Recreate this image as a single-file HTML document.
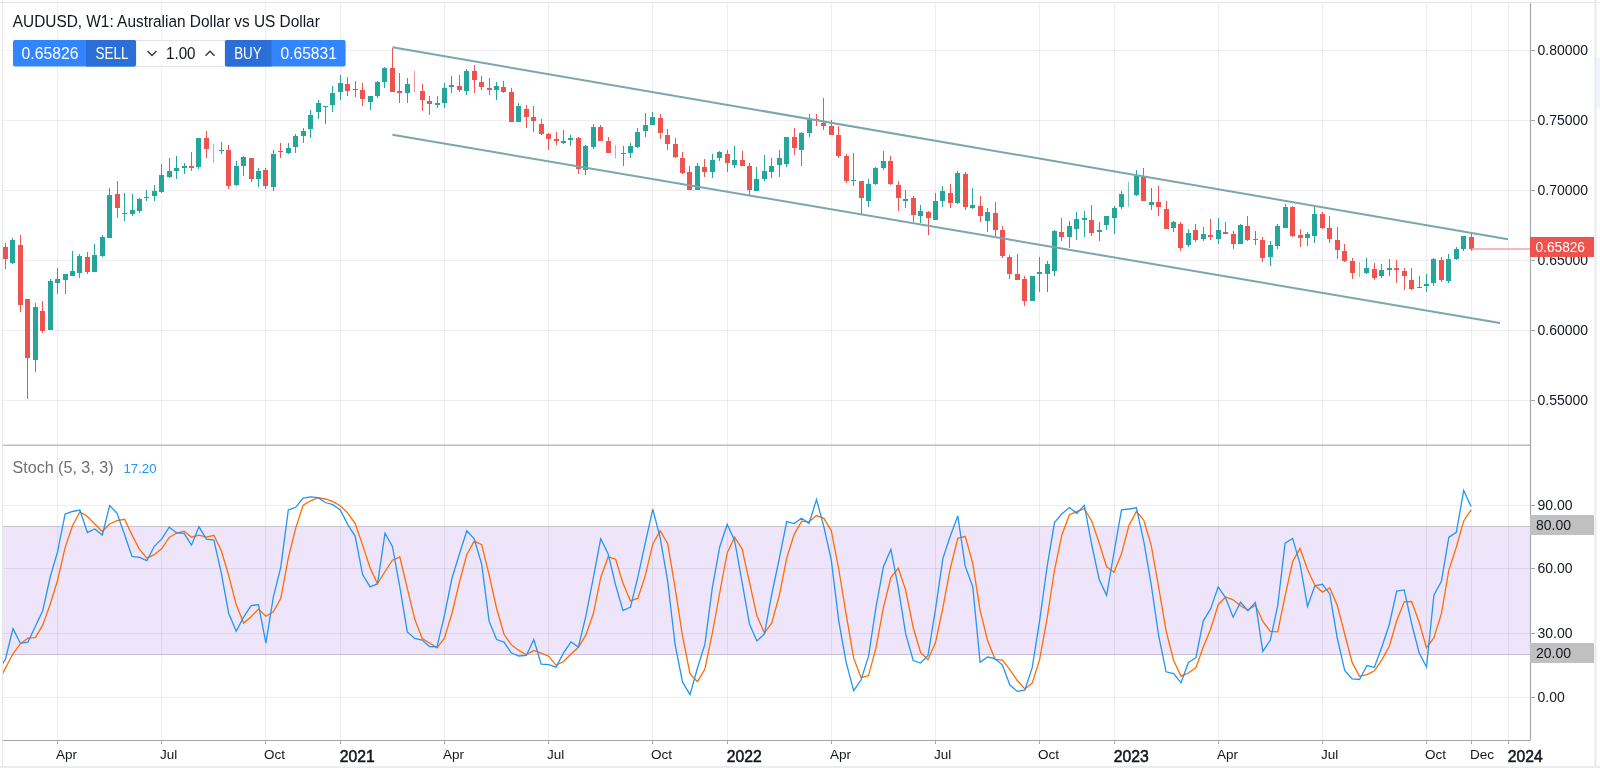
<!DOCTYPE html>
<html><head><meta charset="utf-8"><style>
html,body{margin:0;padding:0;background:#fff;width:1600px;height:768px;overflow:hidden;position:relative}
text{font-family:"Liberation Sans",sans-serif}
</style></head><body>
<svg width="1600" height="768" viewBox="0 0 1600 768" style="position:absolute;left:0;top:0;will-change:transform">
<defs><clipPath id="cm"><rect x="3" y="3" width="1527" height="441"/></clipPath><clipPath id="cs"><rect x="3" y="445" width="1527" height="295"/></clipPath></defs>
<rect x="0" y="0" width="1600" height="768" fill="#ffffff"/>
<line x1="0" y1="2.5" x2="1600" y2="2.5" stroke="#e6e6e6" stroke-width="1"/>
<line x1="2.5" y1="0" x2="2.5" y2="768" stroke="#e6e6e6" stroke-width="1"/>
<rect x="1594.5" y="0" width="2" height="768" fill="#e9e9e9"/>
<rect x="0" y="766" width="1600" height="2" fill="#ececec"/>
<rect x="1596" y="58" width="4" height="50" fill="#edf4fb"/>
<rect x="3" y="526.5" width="1527" height="128" fill="#eee5fa"/>
<line x1="57.5" y1="3" x2="57.5" y2="740" stroke="rgba(0,0,0,0.068)" stroke-width="1"/>
<line x1="161.5" y1="3" x2="161.5" y2="740" stroke="rgba(0,0,0,0.068)" stroke-width="1"/>
<line x1="265.5" y1="3" x2="265.5" y2="740" stroke="rgba(0,0,0,0.068)" stroke-width="1"/>
<line x1="340.5" y1="3" x2="340.5" y2="740" stroke="rgba(0,0,0,0.068)" stroke-width="1"/>
<line x1="444.5" y1="3" x2="444.5" y2="740" stroke="rgba(0,0,0,0.068)" stroke-width="1"/>
<line x1="548.5" y1="3" x2="548.5" y2="740" stroke="rgba(0,0,0,0.068)" stroke-width="1"/>
<line x1="652.5" y1="3" x2="652.5" y2="740" stroke="rgba(0,0,0,0.068)" stroke-width="1"/>
<line x1="727.5" y1="3" x2="727.5" y2="740" stroke="rgba(0,0,0,0.068)" stroke-width="1"/>
<line x1="831.5" y1="3" x2="831.5" y2="740" stroke="rgba(0,0,0,0.068)" stroke-width="1"/>
<line x1="935.5" y1="3" x2="935.5" y2="740" stroke="rgba(0,0,0,0.068)" stroke-width="1"/>
<line x1="1039.5" y1="3" x2="1039.5" y2="740" stroke="rgba(0,0,0,0.068)" stroke-width="1"/>
<line x1="1114.5" y1="3" x2="1114.5" y2="740" stroke="rgba(0,0,0,0.068)" stroke-width="1"/>
<line x1="1218.5" y1="3" x2="1218.5" y2="740" stroke="rgba(0,0,0,0.068)" stroke-width="1"/>
<line x1="1322.5" y1="3" x2="1322.5" y2="740" stroke="rgba(0,0,0,0.068)" stroke-width="1"/>
<line x1="1426.5" y1="3" x2="1426.5" y2="740" stroke="rgba(0,0,0,0.068)" stroke-width="1"/>
<line x1="1471.5" y1="3" x2="1471.5" y2="740" stroke="rgba(0,0,0,0.068)" stroke-width="1"/>
<line x1="1508.5" y1="3" x2="1508.5" y2="740" stroke="rgba(0,0,0,0.068)" stroke-width="1"/>
<line x1="3" y1="50.5" x2="1530" y2="50.5" stroke="rgba(0,0,0,0.068)" stroke-width="1"/>
<line x1="3" y1="120.5" x2="1530" y2="120.5" stroke="rgba(0,0,0,0.068)" stroke-width="1"/>
<line x1="3" y1="190.5" x2="1530" y2="190.5" stroke="rgba(0,0,0,0.068)" stroke-width="1"/>
<line x1="3" y1="260.5" x2="1530" y2="260.5" stroke="rgba(0,0,0,0.068)" stroke-width="1"/>
<line x1="3" y1="330.5" x2="1530" y2="330.5" stroke="rgba(0,0,0,0.068)" stroke-width="1"/>
<line x1="3" y1="400.5" x2="1530" y2="400.5" stroke="rgba(0,0,0,0.068)" stroke-width="1"/>
<line x1="3" y1="505.5" x2="1530" y2="505.5" stroke="rgba(0,0,0,0.068)" stroke-width="1"/>
<line x1="3" y1="568.5" x2="1530" y2="568.5" stroke="rgba(0,0,0,0.068)" stroke-width="1"/>
<line x1="3" y1="633.5" x2="1530" y2="633.5" stroke="rgba(0,0,0,0.068)" stroke-width="1"/>
<line x1="3" y1="697.5" x2="1530" y2="697.5" stroke="rgba(0,0,0,0.068)" stroke-width="1"/>
<line x1="3" y1="526.5" x2="1530" y2="526.5" stroke="#c9c2d3" stroke-width="1.2"/>
<line x1="3" y1="654.5" x2="1530" y2="654.5" stroke="#c9c2d3" stroke-width="1.2"/>
<line x1="3" y1="445.3" x2="1530" y2="445.3" stroke="#bdbdbd" stroke-width="1.5"/>
<line x1="1530.5" y1="3" x2="1530.5" y2="740" stroke="#a8a8a8" stroke-width="1.2"/>
<line x1="3" y1="740.5" x2="1530.5" y2="740.5" stroke="#a8a8a8" stroke-width="1.2"/>
<line x1="1531" y1="50.5" x2="1535" y2="50.5" stroke="#a8a8a8" stroke-width="1"/>
<line x1="1531" y1="120.5" x2="1535" y2="120.5" stroke="#a8a8a8" stroke-width="1"/>
<line x1="1531" y1="190.5" x2="1535" y2="190.5" stroke="#a8a8a8" stroke-width="1"/>
<line x1="1531" y1="260.5" x2="1535" y2="260.5" stroke="#a8a8a8" stroke-width="1"/>
<line x1="1531" y1="330.5" x2="1535" y2="330.5" stroke="#a8a8a8" stroke-width="1"/>
<line x1="1531" y1="400.5" x2="1535" y2="400.5" stroke="#a8a8a8" stroke-width="1"/>
<line x1="1531" y1="505.5" x2="1535" y2="505.5" stroke="#a8a8a8" stroke-width="1"/>
<line x1="1531" y1="568.5" x2="1535" y2="568.5" stroke="#a8a8a8" stroke-width="1"/>
<line x1="1531" y1="633.5" x2="1535" y2="633.5" stroke="#a8a8a8" stroke-width="1"/>
<line x1="1531" y1="697.5" x2="1535" y2="697.5" stroke="#a8a8a8" stroke-width="1"/>
<line x1="57.5" y1="741" x2="57.5" y2="744" stroke="#a8a8a8" stroke-width="1"/>
<line x1="161.5" y1="741" x2="161.5" y2="744" stroke="#a8a8a8" stroke-width="1"/>
<line x1="265.5" y1="741" x2="265.5" y2="744" stroke="#a8a8a8" stroke-width="1"/>
<line x1="340.5" y1="741" x2="340.5" y2="744" stroke="#a8a8a8" stroke-width="1"/>
<line x1="444.5" y1="741" x2="444.5" y2="744" stroke="#a8a8a8" stroke-width="1"/>
<line x1="548.5" y1="741" x2="548.5" y2="744" stroke="#a8a8a8" stroke-width="1"/>
<line x1="652.5" y1="741" x2="652.5" y2="744" stroke="#a8a8a8" stroke-width="1"/>
<line x1="727.5" y1="741" x2="727.5" y2="744" stroke="#a8a8a8" stroke-width="1"/>
<line x1="831.5" y1="741" x2="831.5" y2="744" stroke="#a8a8a8" stroke-width="1"/>
<line x1="935.5" y1="741" x2="935.5" y2="744" stroke="#a8a8a8" stroke-width="1"/>
<line x1="1039.5" y1="741" x2="1039.5" y2="744" stroke="#a8a8a8" stroke-width="1"/>
<line x1="1114.5" y1="741" x2="1114.5" y2="744" stroke="#a8a8a8" stroke-width="1"/>
<line x1="1218.5" y1="741" x2="1218.5" y2="744" stroke="#a8a8a8" stroke-width="1"/>
<line x1="1322.5" y1="741" x2="1322.5" y2="744" stroke="#a8a8a8" stroke-width="1"/>
<line x1="1426.5" y1="741" x2="1426.5" y2="744" stroke="#a8a8a8" stroke-width="1"/>
<line x1="1471.5" y1="741" x2="1471.5" y2="744" stroke="#a8a8a8" stroke-width="1"/>
<line x1="1508.5" y1="741" x2="1508.5" y2="744" stroke="#a8a8a8" stroke-width="1"/>
<g clip-path="url(#cm)">
<rect x="5.0" y="243" width="1" height="26" fill="#ef5350"/>
<rect x="3.0" y="247" width="5" height="12" fill="#ef5350"/>
<rect x="12.0" y="238" width="1" height="26" fill="#26a69a"/>
<rect x="10.0" y="240" width="5" height="23" fill="#26a69a"/>
<rect x="20.0" y="235" width="1" height="77" fill="#ef5350"/>
<rect x="18.0" y="245" width="5" height="60" fill="#ef5350"/>
<rect x="27.0" y="299" width="1" height="100" fill="#ef5350"/>
<rect x="25.0" y="299" width="5" height="59" fill="#ef5350"/>
<rect x="35.0" y="303" width="1" height="69" fill="#26a69a"/>
<rect x="33.0" y="307" width="5" height="53" fill="#26a69a"/>
<rect x="42.0" y="301" width="1" height="32" fill="#ef5350"/>
<rect x="40.0" y="311" width="5" height="20" fill="#ef5350"/>
<rect x="50.0" y="279" width="1" height="51" fill="#26a69a"/>
<rect x="48.0" y="281" width="5" height="49" fill="#26a69a"/>
<rect x="57.0" y="268" width="1" height="26" fill="#26a69a"/>
<rect x="55.0" y="279" width="5" height="4" fill="#26a69a"/>
<rect x="65.0" y="274" width="1" height="20" fill="#26a69a"/>
<rect x="63.0" y="274" width="5" height="6" fill="#26a69a"/>
<rect x="72.0" y="251" width="1" height="25" fill="#26a69a"/>
<rect x="70.0" y="271" width="5" height="5" fill="#26a69a"/>
<rect x="79.0" y="254" width="1" height="24" fill="#26a69a"/>
<rect x="77.0" y="256" width="5" height="17" fill="#26a69a"/>
<rect x="87.0" y="252" width="1" height="22" fill="#ef5350"/>
<rect x="85.0" y="257" width="5" height="15" fill="#ef5350"/>
<rect x="94.0" y="244" width="1" height="28" fill="#26a69a"/>
<rect x="92.0" y="255" width="5" height="17" fill="#26a69a"/>
<rect x="102.0" y="235" width="1" height="22" fill="#26a69a"/>
<rect x="100.0" y="237" width="5" height="19" fill="#26a69a"/>
<rect x="109.0" y="188" width="1" height="50" fill="#26a69a"/>
<rect x="107.0" y="195" width="5" height="43" fill="#26a69a"/>
<rect x="117.0" y="181" width="1" height="37" fill="#ef5350"/>
<rect x="115.0" y="194" width="5" height="14" fill="#ef5350"/>
<rect x="124.0" y="193" width="1" height="28" fill="#26a69a"/>
<rect x="122.0" y="213" width="5" height="1" fill="#26a69a"/>
<rect x="132.0" y="194" width="1" height="22" fill="#26a69a"/>
<rect x="130.0" y="210" width="5" height="4" fill="#26a69a"/>
<rect x="139.0" y="198" width="1" height="15" fill="#26a69a"/>
<rect x="137.0" y="199" width="5" height="12" fill="#26a69a"/>
<rect x="146.0" y="190" width="1" height="11" fill="#26a69a"/>
<rect x="144.0" y="197" width="5" height="1" fill="#26a69a"/>
<rect x="154.0" y="185" width="1" height="16" fill="#26a69a"/>
<rect x="152.0" y="191" width="5" height="5" fill="#26a69a"/>
<rect x="161.0" y="164" width="1" height="29" fill="#26a69a"/>
<rect x="159.0" y="175" width="5" height="17" fill="#26a69a"/>
<rect x="169.0" y="158" width="1" height="20" fill="#26a69a"/>
<rect x="167.0" y="171" width="5" height="6" fill="#26a69a"/>
<rect x="176.0" y="156" width="1" height="23" fill="#26a69a"/>
<rect x="174.0" y="168" width="5" height="3" fill="#26a69a"/>
<rect x="184.0" y="163" width="1" height="11" fill="#26a69a"/>
<rect x="182.0" y="166" width="5" height="2" fill="#26a69a"/>
<rect x="191.0" y="152" width="1" height="19" fill="#ef5350"/>
<rect x="189.0" y="166" width="5" height="2" fill="#ef5350"/>
<rect x="198.0" y="138" width="1" height="31" fill="#26a69a"/>
<rect x="196.0" y="138" width="5" height="29" fill="#26a69a"/>
<rect x="206.0" y="131" width="1" height="27" fill="#ef5350"/>
<rect x="204.0" y="138" width="5" height="11" fill="#ef5350"/>
<rect x="213.0" y="144" width="1" height="19" fill="#ef5350" opacity="0.6"/>
<rect x="221.0" y="142" width="1" height="12" fill="#26a69a"/>
<rect x="219.0" y="150" width="5" height="1" fill="#26a69a"/>
<rect x="228.0" y="145" width="1" height="44" fill="#ef5350"/>
<rect x="226.0" y="150" width="5" height="36" fill="#ef5350"/>
<rect x="236.0" y="161" width="1" height="25" fill="#26a69a"/>
<rect x="234.0" y="166" width="5" height="19" fill="#26a69a"/>
<rect x="243.0" y="156" width="1" height="20" fill="#26a69a"/>
<rect x="241.0" y="157" width="5" height="9" fill="#26a69a"/>
<rect x="251.0" y="158" width="1" height="24" fill="#ef5350"/>
<rect x="249.0" y="158" width="5" height="21" fill="#ef5350"/>
<rect x="258.0" y="168" width="1" height="19" fill="#26a69a"/>
<rect x="256.0" y="171" width="5" height="8" fill="#26a69a"/>
<rect x="265.0" y="168" width="1" height="21" fill="#ef5350"/>
<rect x="263.0" y="170" width="5" height="16" fill="#ef5350"/>
<rect x="273.0" y="150" width="1" height="41" fill="#26a69a"/>
<rect x="271.0" y="154" width="5" height="33" fill="#26a69a"/>
<rect x="280.0" y="143" width="1" height="15" fill="#ef5350"/>
<rect x="278.0" y="151" width="5" height="1" fill="#ef5350"/>
<rect x="288.0" y="143" width="1" height="11" fill="#26a69a"/>
<rect x="286.0" y="148" width="5" height="5" fill="#26a69a"/>
<rect x="295.0" y="134" width="1" height="19" fill="#26a69a"/>
<rect x="293.0" y="136" width="5" height="11" fill="#26a69a"/>
<rect x="303.0" y="128" width="1" height="15" fill="#26a69a"/>
<rect x="301.0" y="131" width="5" height="5" fill="#26a69a"/>
<rect x="310.0" y="110" width="1" height="28" fill="#26a69a"/>
<rect x="308.0" y="115" width="5" height="14" fill="#26a69a"/>
<rect x="318.0" y="100" width="1" height="19" fill="#26a69a"/>
<rect x="316.0" y="103" width="5" height="9" fill="#26a69a"/>
<rect x="325.0" y="106" width="1" height="18" fill="#26a69a"/>
<rect x="323.0" y="106" width="5" height="1" fill="#26a69a"/>
<rect x="332.0" y="86" width="1" height="26" fill="#26a69a"/>
<rect x="330.0" y="93" width="5" height="12" fill="#26a69a"/>
<rect x="340.0" y="75" width="1" height="25" fill="#26a69a"/>
<rect x="338.0" y="83" width="5" height="9" fill="#26a69a"/>
<rect x="347.0" y="77" width="1" height="19" fill="#ef5350"/>
<rect x="345.0" y="84" width="5" height="7" fill="#ef5350"/>
<rect x="355.0" y="81" width="1" height="16" fill="#26a69a"/>
<rect x="353.0" y="89" width="5" height="1" fill="#26a69a"/>
<rect x="362.0" y="83" width="1" height="23" fill="#ef5350"/>
<rect x="360.0" y="90" width="5" height="9" fill="#ef5350"/>
<rect x="370.0" y="96" width="1" height="14" fill="#26a69a"/>
<rect x="368.0" y="96" width="5" height="6" fill="#26a69a"/>
<rect x="377.0" y="81" width="1" height="17" fill="#26a69a"/>
<rect x="375.0" y="82" width="5" height="14" fill="#26a69a"/>
<rect x="384.0" y="67" width="1" height="21" fill="#26a69a"/>
<rect x="382.0" y="68" width="5" height="14" fill="#26a69a"/>
<rect x="392.0" y="48" width="1" height="44" fill="#ef5350"/>
<rect x="390.0" y="68" width="5" height="24" fill="#ef5350"/>
<rect x="399.0" y="73" width="1" height="30" fill="#ef5350"/>
<rect x="397.0" y="91" width="5" height="2" fill="#ef5350"/>
<rect x="407.0" y="78" width="1" height="25" fill="#26a69a"/>
<rect x="405.0" y="84" width="5" height="9" fill="#26a69a"/>
<rect x="414.0" y="71" width="1" height="21" fill="#ef5350" opacity="0.6"/>
<rect x="422.0" y="84" width="1" height="27" fill="#ef5350"/>
<rect x="420.0" y="91" width="5" height="9" fill="#ef5350"/>
<rect x="429.0" y="96" width="1" height="19" fill="#ef5350"/>
<rect x="427.0" y="101" width="5" height="3" fill="#ef5350"/>
<rect x="437.0" y="96" width="1" height="12" fill="#26a69a"/>
<rect x="435.0" y="103" width="5" height="2" fill="#26a69a"/>
<rect x="444.0" y="83" width="1" height="25" fill="#26a69a"/>
<rect x="442.0" y="88" width="5" height="15" fill="#26a69a"/>
<rect x="451.0" y="76" width="1" height="17" fill="#26a69a"/>
<rect x="449.0" y="85" width="5" height="2" fill="#26a69a"/>
<rect x="459.0" y="75" width="1" height="17" fill="#ef5350"/>
<rect x="457.0" y="86" width="5" height="4" fill="#ef5350"/>
<rect x="466.0" y="69" width="1" height="26" fill="#26a69a"/>
<rect x="464.0" y="71" width="5" height="20" fill="#26a69a"/>
<rect x="474.0" y="65" width="1" height="28" fill="#ef5350"/>
<rect x="472.0" y="71" width="5" height="9" fill="#ef5350"/>
<rect x="481.0" y="76" width="1" height="14" fill="#ef5350"/>
<rect x="479.0" y="82" width="5" height="5" fill="#ef5350"/>
<rect x="489.0" y="78" width="1" height="17" fill="#ef5350"/>
<rect x="487.0" y="88" width="5" height="2" fill="#ef5350"/>
<rect x="496.0" y="82" width="1" height="18" fill="#26a69a"/>
<rect x="494.0" y="86" width="5" height="4" fill="#26a69a"/>
<rect x="503.0" y="81" width="1" height="12" fill="#ef5350"/>
<rect x="501.0" y="87" width="5" height="5" fill="#ef5350"/>
<rect x="511.0" y="88" width="1" height="34" fill="#ef5350"/>
<rect x="509.0" y="92" width="5" height="30" fill="#ef5350"/>
<rect x="518.0" y="103" width="1" height="19" fill="#26a69a"/>
<rect x="516.0" y="106" width="5" height="16" fill="#26a69a"/>
<rect x="526.0" y="105" width="1" height="23" fill="#ef5350"/>
<rect x="524.0" y="109" width="5" height="8" fill="#ef5350"/>
<rect x="533.0" y="106" width="1" height="26" fill="#ef5350"/>
<rect x="531.0" y="117" width="5" height="4" fill="#ef5350"/>
<rect x="541.0" y="119" width="1" height="16" fill="#ef5350"/>
<rect x="539.0" y="124" width="5" height="10" fill="#ef5350"/>
<rect x="548.0" y="133" width="1" height="17" fill="#ef5350"/>
<rect x="546.0" y="134" width="5" height="5" fill="#ef5350"/>
<rect x="556.0" y="132" width="1" height="13" fill="#ef5350"/>
<rect x="554.0" y="139" width="5" height="2" fill="#ef5350"/>
<rect x="563.0" y="130" width="1" height="14" fill="#26a69a"/>
<rect x="561.0" y="141" width="5" height="2" fill="#26a69a"/>
<rect x="570.0" y="135" width="1" height="11" fill="#26a69a"/>
<rect x="568.0" y="138" width="5" height="2" fill="#26a69a"/>
<rect x="578.0" y="137" width="1" height="37" fill="#ef5350"/>
<rect x="576.0" y="138" width="5" height="31" fill="#ef5350"/>
<rect x="585.0" y="145" width="1" height="30" fill="#26a69a"/>
<rect x="583.0" y="146" width="5" height="24" fill="#26a69a"/>
<rect x="593.0" y="124" width="1" height="25" fill="#26a69a"/>
<rect x="591.0" y="127" width="5" height="20" fill="#26a69a"/>
<rect x="600.0" y="125" width="1" height="16" fill="#ef5350"/>
<rect x="598.0" y="127" width="5" height="14" fill="#ef5350"/>
<rect x="608.0" y="137" width="1" height="16" fill="#ef5350"/>
<rect x="606.0" y="141" width="5" height="12" fill="#ef5350"/>
<rect x="615.0" y="145" width="1" height="13" fill="#ef5350" opacity="0.6"/>
<rect x="623.0" y="146" width="1" height="20" fill="#26a69a"/>
<rect x="621.0" y="153" width="5" height="1" fill="#26a69a"/>
<rect x="630.0" y="143" width="1" height="15" fill="#26a69a"/>
<rect x="628.0" y="146" width="5" height="7" fill="#26a69a"/>
<rect x="637.0" y="128" width="1" height="20" fill="#26a69a"/>
<rect x="635.0" y="132" width="5" height="15" fill="#26a69a"/>
<rect x="645.0" y="113" width="1" height="24" fill="#26a69a"/>
<rect x="643.0" y="125" width="5" height="6" fill="#26a69a"/>
<rect x="652.0" y="112" width="1" height="13" fill="#26a69a"/>
<rect x="650.0" y="117" width="5" height="8" fill="#26a69a"/>
<rect x="660.0" y="114" width="1" height="25" fill="#ef5350"/>
<rect x="658.0" y="118" width="5" height="15" fill="#ef5350"/>
<rect x="667.0" y="129" width="1" height="21" fill="#ef5350"/>
<rect x="665.0" y="135" width="5" height="9" fill="#ef5350"/>
<rect x="675.0" y="138" width="1" height="20" fill="#ef5350"/>
<rect x="673.0" y="144" width="5" height="13" fill="#ef5350"/>
<rect x="682.0" y="152" width="1" height="22" fill="#ef5350"/>
<rect x="680.0" y="158" width="5" height="15" fill="#ef5350"/>
<rect x="689.0" y="166" width="1" height="24" fill="#ef5350"/>
<rect x="687.0" y="172" width="5" height="18" fill="#ef5350"/>
<rect x="697.0" y="163" width="1" height="27" fill="#26a69a"/>
<rect x="695.0" y="166" width="5" height="24" fill="#26a69a"/>
<rect x="704.0" y="159" width="1" height="18" fill="#ef5350"/>
<rect x="702.0" y="167" width="5" height="5" fill="#ef5350"/>
<rect x="712.0" y="154" width="1" height="24" fill="#26a69a"/>
<rect x="710.0" y="160" width="5" height="12" fill="#26a69a"/>
<rect x="719.0" y="151" width="1" height="10" fill="#26a69a"/>
<rect x="717.0" y="152" width="5" height="6" fill="#26a69a"/>
<rect x="727.0" y="150" width="1" height="22" fill="#ef5350"/>
<rect x="725.0" y="154" width="5" height="9" fill="#ef5350"/>
<rect x="734.0" y="146" width="1" height="22" fill="#26a69a"/>
<rect x="732.0" y="160" width="5" height="5" fill="#26a69a"/>
<rect x="742.0" y="151" width="1" height="15" fill="#ef5350"/>
<rect x="740.0" y="160" width="5" height="6" fill="#ef5350"/>
<rect x="749.0" y="163" width="1" height="32" fill="#ef5350"/>
<rect x="747.0" y="166" width="5" height="24" fill="#ef5350"/>
<rect x="756.0" y="167" width="1" height="24" fill="#26a69a"/>
<rect x="754.0" y="179" width="5" height="12" fill="#26a69a"/>
<rect x="764.0" y="155" width="1" height="26" fill="#26a69a"/>
<rect x="762.0" y="171" width="5" height="8" fill="#26a69a"/>
<rect x="771.0" y="158" width="1" height="20" fill="#26a69a"/>
<rect x="769.0" y="166" width="5" height="6" fill="#26a69a"/>
<rect x="779.0" y="150" width="1" height="27" fill="#26a69a"/>
<rect x="777.0" y="158" width="5" height="7" fill="#26a69a"/>
<rect x="786.0" y="137" width="1" height="30" fill="#26a69a"/>
<rect x="784.0" y="137" width="5" height="27" fill="#26a69a"/>
<rect x="794.0" y="128" width="1" height="27" fill="#ef5350"/>
<rect x="792.0" y="137" width="5" height="11" fill="#ef5350"/>
<rect x="801.0" y="132" width="1" height="34" fill="#26a69a"/>
<rect x="799.0" y="133" width="5" height="17" fill="#26a69a"/>
<rect x="809.0" y="114" width="1" height="23" fill="#26a69a"/>
<rect x="807.0" y="119" width="5" height="14" fill="#26a69a"/>
<rect x="816.0" y="114" width="1" height="12" fill="#ef5350"/>
<rect x="814.0" y="119" width="5" height="1" fill="#ef5350"/>
<rect x="823.0" y="98" width="1" height="32" fill="#ef5350"/>
<rect x="821.0" y="123" width="5" height="3" fill="#ef5350"/>
<rect x="831.0" y="120" width="1" height="15" fill="#ef5350"/>
<rect x="829.0" y="126" width="5" height="9" fill="#ef5350"/>
<rect x="838.0" y="126" width="1" height="32" fill="#ef5350"/>
<rect x="836.0" y="135" width="5" height="21" fill="#ef5350"/>
<rect x="846.0" y="154" width="1" height="29" fill="#ef5350"/>
<rect x="844.0" y="156" width="5" height="25" fill="#ef5350"/>
<rect x="853.0" y="153" width="1" height="33" fill="#26a69a"/>
<rect x="851.0" y="180" width="5" height="1" fill="#26a69a"/>
<rect x="861.0" y="181" width="1" height="33" fill="#ef5350"/>
<rect x="859.0" y="181" width="5" height="17" fill="#ef5350"/>
<rect x="868.0" y="179" width="1" height="28" fill="#26a69a"/>
<rect x="866.0" y="184" width="5" height="17" fill="#26a69a"/>
<rect x="875.0" y="167" width="1" height="18" fill="#26a69a"/>
<rect x="873.0" y="168" width="5" height="16" fill="#26a69a"/>
<rect x="883.0" y="151" width="1" height="19" fill="#26a69a"/>
<rect x="881.0" y="161" width="5" height="7" fill="#26a69a"/>
<rect x="890.0" y="156" width="1" height="29" fill="#ef5350"/>
<rect x="888.0" y="161" width="5" height="23" fill="#ef5350"/>
<rect x="898.0" y="181" width="1" height="30" fill="#ef5350"/>
<rect x="896.0" y="185" width="5" height="13" fill="#ef5350"/>
<rect x="905.0" y="190" width="1" height="18" fill="#26a69a"/>
<rect x="903.0" y="199" width="5" height="2" fill="#26a69a"/>
<rect x="913.0" y="196" width="1" height="26" fill="#ef5350"/>
<rect x="911.0" y="198" width="5" height="17" fill="#ef5350"/>
<rect x="920.0" y="205" width="1" height="18" fill="#26a69a"/>
<rect x="918.0" y="211" width="5" height="5" fill="#26a69a"/>
<rect x="928.0" y="211" width="1" height="24" fill="#ef5350"/>
<rect x="926.0" y="212" width="5" height="6" fill="#ef5350"/>
<rect x="935.0" y="193" width="1" height="27" fill="#26a69a"/>
<rect x="933.0" y="201" width="5" height="19" fill="#26a69a"/>
<rect x="942.0" y="186" width="1" height="21" fill="#26a69a"/>
<rect x="940.0" y="191" width="5" height="10" fill="#26a69a"/>
<rect x="950.0" y="184" width="1" height="24" fill="#ef5350"/>
<rect x="948.0" y="193" width="5" height="10" fill="#ef5350"/>
<rect x="957.0" y="171" width="1" height="33" fill="#26a69a"/>
<rect x="955.0" y="173" width="5" height="30" fill="#26a69a"/>
<rect x="965.0" y="172" width="1" height="38" fill="#ef5350"/>
<rect x="963.0" y="174" width="5" height="33" fill="#ef5350"/>
<rect x="972.0" y="188" width="1" height="21" fill="#26a69a"/>
<rect x="970.0" y="205" width="5" height="3" fill="#26a69a"/>
<rect x="980.0" y="196" width="1" height="26" fill="#ef5350"/>
<rect x="978.0" y="206" width="5" height="10" fill="#ef5350"/>
<rect x="987.0" y="208" width="1" height="24" fill="#26a69a"/>
<rect x="985.0" y="212" width="5" height="9" fill="#26a69a"/>
<rect x="995.0" y="202" width="1" height="34" fill="#ef5350"/>
<rect x="993.0" y="213" width="5" height="17" fill="#ef5350"/>
<rect x="1002.0" y="226" width="1" height="32" fill="#ef5350"/>
<rect x="1000.0" y="230" width="5" height="26" fill="#ef5350"/>
<rect x="1009.0" y="255" width="1" height="24" fill="#ef5350"/>
<rect x="1007.0" y="257" width="5" height="17" fill="#ef5350"/>
<rect x="1017.0" y="254" width="1" height="26" fill="#ef5350"/>
<rect x="1015.0" y="274" width="5" height="6" fill="#ef5350"/>
<rect x="1024.0" y="276" width="1" height="30" fill="#ef5350"/>
<rect x="1022.0" y="279" width="5" height="22" fill="#ef5350"/>
<rect x="1032.0" y="276" width="1" height="25" fill="#26a69a"/>
<rect x="1030.0" y="276" width="5" height="25" fill="#26a69a"/>
<rect x="1039.0" y="257" width="1" height="35" fill="#26a69a"/>
<rect x="1037.0" y="272" width="5" height="2" fill="#26a69a"/>
<rect x="1047.0" y="261" width="1" height="31" fill="#26a69a"/>
<rect x="1045.0" y="264" width="5" height="10" fill="#26a69a"/>
<rect x="1054.0" y="230" width="1" height="46" fill="#26a69a"/>
<rect x="1052.0" y="231" width="5" height="40" fill="#26a69a"/>
<rect x="1061.0" y="218" width="1" height="23" fill="#ef5350"/>
<rect x="1059.0" y="232" width="5" height="5" fill="#ef5350"/>
<rect x="1069.0" y="221" width="1" height="27" fill="#26a69a"/>
<rect x="1067.0" y="226" width="5" height="11" fill="#26a69a"/>
<rect x="1076.0" y="212" width="1" height="28" fill="#26a69a"/>
<rect x="1074.0" y="219" width="5" height="10" fill="#26a69a"/>
<rect x="1084.0" y="211" width="1" height="26" fill="#26a69a"/>
<rect x="1082.0" y="218" width="5" height="2" fill="#26a69a"/>
<rect x="1091.0" y="205" width="1" height="31" fill="#ef5350"/>
<rect x="1089.0" y="220" width="5" height="13" fill="#ef5350"/>
<rect x="1099.0" y="222" width="1" height="19" fill="#26a69a"/>
<rect x="1097.0" y="230" width="5" height="2" fill="#26a69a"/>
<rect x="1106.0" y="216" width="1" height="14" fill="#26a69a"/>
<rect x="1104.0" y="216" width="5" height="9" fill="#26a69a"/>
<rect x="1114.0" y="206" width="1" height="28" fill="#26a69a"/>
<rect x="1112.0" y="208" width="5" height="10" fill="#26a69a"/>
<rect x="1121.0" y="191" width="1" height="18" fill="#26a69a"/>
<rect x="1119.0" y="194" width="5" height="13" fill="#26a69a"/>
<rect x="1128.0" y="182" width="1" height="25" fill="#26a69a" opacity="0.6"/>
<rect x="1136.0" y="170" width="1" height="26" fill="#26a69a"/>
<rect x="1134.0" y="176" width="5" height="19" fill="#26a69a"/>
<rect x="1143.0" y="168" width="1" height="33" fill="#ef5350"/>
<rect x="1141.0" y="177" width="5" height="24" fill="#ef5350"/>
<rect x="1151.0" y="188" width="1" height="22" fill="#26a69a"/>
<rect x="1149.0" y="202" width="5" height="3" fill="#26a69a"/>
<rect x="1158.0" y="186" width="1" height="30" fill="#ef5350"/>
<rect x="1156.0" y="202" width="5" height="5" fill="#ef5350"/>
<rect x="1166.0" y="201" width="1" height="28" fill="#ef5350"/>
<rect x="1164.0" y="209" width="5" height="20" fill="#ef5350"/>
<rect x="1173.0" y="221" width="1" height="11" fill="#26a69a"/>
<rect x="1171.0" y="222" width="5" height="6" fill="#26a69a"/>
<rect x="1180.0" y="222" width="1" height="29" fill="#ef5350"/>
<rect x="1178.0" y="224" width="5" height="24" fill="#ef5350"/>
<rect x="1188.0" y="229" width="1" height="18" fill="#26a69a"/>
<rect x="1186.0" y="233" width="5" height="12" fill="#26a69a"/>
<rect x="1195.0" y="224" width="1" height="18" fill="#ef5350"/>
<rect x="1193.0" y="230" width="5" height="10" fill="#ef5350"/>
<rect x="1203.0" y="227" width="1" height="14" fill="#26a69a"/>
<rect x="1201.0" y="234" width="5" height="5" fill="#26a69a"/>
<rect x="1210.0" y="219" width="1" height="21" fill="#ef5350"/>
<rect x="1208.0" y="235" width="5" height="2" fill="#ef5350"/>
<rect x="1218.0" y="218" width="1" height="26" fill="#26a69a"/>
<rect x="1216.0" y="230" width="5" height="9" fill="#26a69a"/>
<rect x="1225.0" y="222" width="1" height="12" fill="#ef5350"/>
<rect x="1223.0" y="232" width="5" height="2" fill="#ef5350"/>
<rect x="1233.0" y="231" width="1" height="18" fill="#ef5350"/>
<rect x="1231.0" y="234" width="5" height="10" fill="#ef5350"/>
<rect x="1240.0" y="224" width="1" height="20" fill="#26a69a"/>
<rect x="1238.0" y="225" width="5" height="19" fill="#26a69a"/>
<rect x="1247.0" y="216" width="1" height="25" fill="#ef5350"/>
<rect x="1245.0" y="226" width="5" height="14" fill="#ef5350"/>
<rect x="1255.0" y="231" width="1" height="14" fill="#26a69a"/>
<rect x="1253.0" y="239" width="5" height="1" fill="#26a69a"/>
<rect x="1262.0" y="237" width="1" height="25" fill="#ef5350"/>
<rect x="1260.0" y="240" width="5" height="18" fill="#ef5350"/>
<rect x="1270.0" y="241" width="1" height="25" fill="#26a69a"/>
<rect x="1268.0" y="245" width="5" height="12" fill="#26a69a"/>
<rect x="1277.0" y="224" width="1" height="25" fill="#26a69a"/>
<rect x="1275.0" y="226" width="5" height="20" fill="#26a69a"/>
<rect x="1285.0" y="204" width="1" height="24" fill="#26a69a"/>
<rect x="1283.0" y="207" width="5" height="21" fill="#26a69a"/>
<rect x="1292.0" y="206" width="1" height="31" fill="#ef5350"/>
<rect x="1290.0" y="207" width="5" height="29" fill="#ef5350"/>
<rect x="1300.0" y="229" width="1" height="18" fill="#ef5350"/>
<rect x="1298.0" y="235" width="5" height="3" fill="#ef5350"/>
<rect x="1307.0" y="232" width="1" height="14" fill="#26a69a"/>
<rect x="1305.0" y="234" width="5" height="4" fill="#26a69a"/>
<rect x="1314.0" y="207" width="1" height="36" fill="#26a69a"/>
<rect x="1312.0" y="214" width="5" height="22" fill="#26a69a"/>
<rect x="1322.0" y="212" width="1" height="17" fill="#ef5350"/>
<rect x="1320.0" y="214" width="5" height="14" fill="#ef5350"/>
<rect x="1329.0" y="216" width="1" height="27" fill="#ef5350"/>
<rect x="1327.0" y="228" width="5" height="11" fill="#ef5350"/>
<rect x="1337.0" y="227" width="1" height="32" fill="#ef5350"/>
<rect x="1335.0" y="240" width="5" height="10" fill="#ef5350"/>
<rect x="1344.0" y="244" width="1" height="18" fill="#ef5350"/>
<rect x="1342.0" y="251" width="5" height="10" fill="#ef5350"/>
<rect x="1352.0" y="258" width="1" height="21" fill="#ef5350"/>
<rect x="1350.0" y="261" width="5" height="12" fill="#ef5350"/>
<rect x="1359.0" y="262" width="1" height="15" fill="#ef5350" opacity="0.6"/>
<rect x="1366.0" y="258" width="1" height="16" fill="#26a69a"/>
<rect x="1364.0" y="268" width="5" height="5" fill="#26a69a"/>
<rect x="1374.0" y="263" width="1" height="17" fill="#ef5350"/>
<rect x="1372.0" y="269" width="5" height="9" fill="#ef5350"/>
<rect x="1381.0" y="264" width="1" height="14" fill="#26a69a"/>
<rect x="1379.0" y="270" width="5" height="6" fill="#26a69a"/>
<rect x="1389.0" y="259" width="1" height="17" fill="#26a69a"/>
<rect x="1387.0" y="268" width="5" height="2" fill="#26a69a"/>
<rect x="1396.0" y="260" width="1" height="23" fill="#ef5350"/>
<rect x="1394.0" y="268" width="5" height="2" fill="#ef5350"/>
<rect x="1404.0" y="268" width="1" height="22" fill="#ef5350"/>
<rect x="1402.0" y="271" width="5" height="5" fill="#ef5350"/>
<rect x="1411.0" y="268" width="1" height="22" fill="#ef5350"/>
<rect x="1409.0" y="280" width="5" height="9" fill="#ef5350"/>
<rect x="1419.0" y="276" width="1" height="12" fill="#26a69a"/>
<rect x="1417.0" y="287" width="5" height="1" fill="#26a69a"/>
<rect x="1426.0" y="274" width="1" height="18" fill="#26a69a"/>
<rect x="1424.0" y="284" width="5" height="2" fill="#26a69a"/>
<rect x="1433.0" y="258" width="1" height="28" fill="#26a69a"/>
<rect x="1431.0" y="259" width="5" height="24" fill="#26a69a"/>
<rect x="1441.0" y="257" width="1" height="25" fill="#ef5350"/>
<rect x="1439.0" y="260" width="5" height="20" fill="#ef5350"/>
<rect x="1448.0" y="254" width="1" height="29" fill="#26a69a"/>
<rect x="1446.0" y="259" width="5" height="22" fill="#26a69a"/>
<rect x="1456.0" y="247" width="1" height="13" fill="#26a69a"/>
<rect x="1454.0" y="249" width="5" height="10" fill="#26a69a"/>
<rect x="1463.0" y="236" width="1" height="15" fill="#26a69a"/>
<rect x="1461.0" y="236" width="5" height="13" fill="#26a69a"/>
<rect x="1471.0" y="234" width="1" height="17" fill="#ef5350"/>
<rect x="1469.0" y="237" width="5" height="12" fill="#ef5350"/>
<line x1="392.5" y1="47.3" x2="1508" y2="239.2" stroke="#7aa6ad" stroke-width="2"/>
<line x1="392.5" y1="134.8" x2="1500" y2="323" stroke="#7aa6ad" stroke-width="2"/>
<line x1="1472" y1="249" x2="1530" y2="249" stroke="#f5a3a1" stroke-width="1.5"/>
</g>
<g clip-path="url(#cs)" fill="none" stroke-linejoin="miter">
<polyline points="-1.9,683.0 5.5,668.0 13.0,653.8 20.4,643.7 27.9,638.2 35.3,637.6 42.7,625.2 50.2,604.3 57.6,580.3 65.1,547.6 72.5,525.8 79.9,511.9 87.4,516.5 94.8,524.0 102.3,531.5 109.7,524.0 117.1,520.6 124.6,519.3 132.0,534.9 139.5,549.5 146.9,558.1 154.3,554.7 161.8,548.6 169.2,537.5 176.7,533.0 184.1,531.2 191.5,537.2 199.0,535.2 206.4,537.1 213.9,535.3 221.3,550.8 228.7,575.5 236.2,604.6 243.6,623.1 251.1,616.7 258.5,609.1 265.9,616.2 273.4,611.7 280.8,598.3 288.3,557.9 295.7,528.1 303.1,505.2 310.6,500.8 318.0,497.6 325.4,499.0 332.9,501.6 340.3,505.7 347.8,513.1 355.2,523.6 362.6,545.1 370.1,567.9 377.5,583.7 385.0,571.5 392.4,560.2 399.8,557.0 407.3,588.4 414.7,619.1 422.2,638.5 429.6,643.0 437.0,647.9 444.5,637.9 451.9,613.5 459.4,582.5 466.8,554.4 474.2,541.2 481.7,544.6 489.1,574.8 496.6,608.3 504.0,634.3 511.4,644.9 518.9,650.4 526.3,654.8 533.8,650.4 541.2,653.1 548.6,656.2 556.1,665.3 563.5,661.5 571.0,654.0 578.4,647.3 585.8,635.1 593.3,613.8 600.7,577.7 608.1,556.8 615.6,559.2 623.0,583.2 630.5,601.0 637.9,598.2 645.3,575.6 652.8,543.9 660.2,530.9 667.7,543.7 675.1,587.9 682.5,635.9 690.0,673.7 697.4,681.6 704.9,669.0 712.3,633.4 719.7,593.0 727.2,553.0 734.6,537.2 742.1,549.0 749.5,582.3 756.9,615.8 764.4,633.0 771.8,623.0 779.3,595.5 786.7,558.1 794.1,534.6 801.6,521.2 809.0,521.8 816.5,515.6 823.9,518.4 831.3,530.7 838.8,569.5 846.2,614.7 853.7,658.2 861.1,677.7 868.5,675.6 876.0,647.8 883.4,607.6 890.9,577.3 898.3,568.3 905.7,590.4 913.2,627.5 920.6,652.5 928.0,659.7 935.5,642.6 942.9,607.7 950.4,567.8 957.8,538.3 965.2,536.3 972.7,563.1 980.1,610.4 987.6,640.6 995.0,659.3 1002.4,660.2 1009.9,669.6 1017.3,680.5 1024.8,688.9 1032.2,683.1 1039.6,659.6 1047.1,618.4 1054.5,570.0 1062.0,534.4 1069.4,514.7 1076.8,511.6 1084.3,508.7 1091.7,521.0 1099.2,543.1 1106.6,566.8 1114.0,572.2 1121.5,553.8 1128.9,525.6 1136.4,511.5 1143.8,520.2 1151.2,545.4 1158.7,587.3 1166.1,630.8 1173.6,660.5 1181.0,676.1 1188.4,673.0 1195.9,667.6 1203.3,647.0 1210.7,629.0 1218.2,604.7 1225.6,597.0 1233.1,599.8 1240.5,605.7 1247.9,610.0 1255.4,605.1 1262.8,621.5 1270.3,631.4 1277.7,631.9 1285.1,595.8 1292.6,561.8 1300.0,548.4 1307.5,569.5 1314.9,585.2 1322.3,592.1 1329.8,588.0 1337.2,605.3 1344.7,634.0 1352.1,662.4 1359.5,676.3 1367.0,674.6 1374.4,670.8 1381.9,659.8 1389.3,646.2 1396.7,620.7 1404.2,601.8 1411.6,601.5 1419.1,622.0 1426.5,647.7 1433.9,637.7 1441.4,613.7 1448.8,570.3 1456.3,547.2 1463.7,520.9 1471.1,509.8" stroke="#ff6d00" stroke-width="1.3"/>
<polyline points="-1.9,671.0 5.5,659.0 13.0,628.7 20.4,643.4 27.9,642.1 35.3,626.5 42.7,610.8 50.2,577.0 57.6,551.7 65.1,514.1 72.5,511.5 79.9,510.0 87.4,532.5 94.8,529.0 102.3,535.0 109.7,505.5 117.1,513.4 124.6,534.8 132.0,556.4 139.5,557.3 146.9,560.6 154.3,546.3 161.8,538.9 169.2,527.2 176.7,532.9 184.1,533.4 191.5,545.2 199.0,526.8 206.4,539.1 213.9,540.0 221.3,573.1 228.7,613.2 236.2,631.2 243.6,617.1 251.1,605.6 258.5,604.7 265.9,643.2 273.4,596.7 280.8,567.1 288.3,510.0 295.7,507.3 303.1,498.2 310.6,496.9 318.0,497.7 325.4,502.5 332.9,504.7 340.3,509.9 347.8,524.6 355.2,536.3 362.6,574.5 370.1,586.9 377.5,583.8 385.0,533.3 392.4,546.4 399.8,586.8 407.3,631.9 414.7,638.5 422.2,640.0 429.6,646.5 437.0,646.8 444.5,615.1 451.9,578.5 459.4,554.0 466.8,530.7 474.2,538.9 481.7,564.2 489.1,621.2 496.6,639.5 504.0,642.1 511.4,653.0 518.9,656.0 526.3,655.5 533.8,639.6 541.2,664.2 548.6,664.7 556.1,667.1 563.5,652.9 571.0,641.9 578.4,647.0 585.8,616.4 593.3,577.9 600.7,538.8 608.1,553.7 615.6,585.1 623.0,610.6 630.5,607.1 637.9,576.9 645.3,542.9 652.8,509.1 660.2,538.0 667.7,581.3 675.1,644.6 682.5,681.9 690.0,694.6 697.4,668.2 704.9,644.2 712.3,587.8 719.7,547.0 727.2,524.3 734.6,540.5 742.1,582.3 749.5,624.0 756.9,641.0 764.4,634.0 771.8,594.0 779.3,558.6 786.7,521.6 794.1,523.6 801.6,518.3 809.0,523.4 816.5,499.5 823.9,526.8 831.3,560.2 838.8,621.4 846.2,662.6 853.7,690.6 861.1,679.8 868.5,656.4 876.0,607.2 883.4,566.8 890.9,549.5 898.3,587.9 905.7,633.9 913.2,660.5 920.6,663.0 928.0,655.5 935.5,609.2 942.9,558.3 950.4,535.7 957.8,515.9 965.2,566.2 972.7,586.5 980.1,662.4 987.6,657.0 995.0,658.6 1002.4,665.1 1009.9,685.0 1017.3,691.4 1024.8,690.2 1032.2,667.7 1039.6,620.9 1047.1,566.7 1054.5,522.6 1062.0,513.8 1069.4,507.6 1076.8,513.3 1084.3,505.3 1091.7,544.5 1099.2,579.6 1106.6,595.3 1114.0,552.5 1121.5,509.9 1128.9,509.0 1136.4,507.8 1143.8,541.5 1151.2,584.5 1158.7,636.0 1166.1,671.8 1173.6,673.6 1181.0,682.8 1188.4,662.5 1195.9,657.7 1203.3,620.8 1210.7,608.7 1218.2,586.9 1225.6,597.8 1233.1,617.2 1240.5,602.2 1247.9,610.7 1255.4,602.5 1262.8,651.4 1270.3,640.3 1277.7,605.7 1285.1,543.1 1292.6,538.4 1300.0,563.6 1307.5,606.4 1314.9,585.7 1322.3,584.3 1329.8,593.9 1337.2,637.8 1344.7,670.4 1352.1,678.9 1359.5,679.5 1367.0,665.5 1374.4,667.3 1381.9,646.7 1389.3,624.5 1396.7,591.0 1404.2,589.9 1411.6,623.5 1419.1,652.7 1426.5,667.0 1433.9,595.1 1441.4,581.4 1448.8,537.4 1456.3,532.3 1463.7,490.4 1471.1,506.5" stroke="#2196f3" stroke-width="1.3"/>
</g>
<text x="1537.5" y="55.0" font-family="Liberation Sans, sans-serif" font-size="14" fill="#131722">0.80000</text>
<text x="1537.5" y="125.0" font-family="Liberation Sans, sans-serif" font-size="14" fill="#131722">0.75000</text>
<text x="1537.5" y="195.0" font-family="Liberation Sans, sans-serif" font-size="14" fill="#131722">0.70000</text>
<text x="1537.5" y="265.0" font-family="Liberation Sans, sans-serif" font-size="14" fill="#131722">0.65000</text>
<text x="1537.5" y="335.0" font-family="Liberation Sans, sans-serif" font-size="14" fill="#131722">0.60000</text>
<text x="1537.5" y="405.0" font-family="Liberation Sans, sans-serif" font-size="14" fill="#131722">0.55000</text>
<rect x="1530" y="237" width="64" height="20" fill="#ef5350"/>
<text x="1535.5" y="252.4" font-family="Liberation Sans, sans-serif" font-size="14.6" textLength="49.5" lengthAdjust="spacingAndGlyphs" fill="#ffffff">0.65826</text>
<text x="1537.5" y="510.0" font-family="Liberation Sans, sans-serif" font-size="14" fill="#131722">90.00</text>
<text x="1537.5" y="573.0" font-family="Liberation Sans, sans-serif" font-size="14" fill="#131722">60.00</text>
<text x="1537.5" y="638.0" font-family="Liberation Sans, sans-serif" font-size="14" fill="#131722">30.00</text>
<text x="1537.5" y="702.0" font-family="Liberation Sans, sans-serif" font-size="14" fill="#131722">0.00</text>
<rect x="1530" y="515" width="64" height="20" fill="#c0c0c0"/>
<text x="1536" y="530" font-family="Liberation Sans, sans-serif" font-size="14" fill="#131722">80.00</text>
<rect x="1530" y="643" width="64" height="20" fill="#c0c0c0"/>
<text x="1536" y="658" font-family="Liberation Sans, sans-serif" font-size="14" fill="#131722">20.00</text>
<text x="56.0" y="758.9" font-family="Liberation Sans, sans-serif" font-size="13.5" fill="#131722">Apr</text>
<text x="160.0" y="758.9" font-family="Liberation Sans, sans-serif" font-size="13.5" fill="#131722">Jul</text>
<text x="264.0" y="758.9" font-family="Liberation Sans, sans-serif" font-size="13.5" fill="#131722">Oct</text>
<text x="339.7" y="761.5" font-family="Liberation Sans, sans-serif" font-size="16.5" stroke="#131722" stroke-width="0.55" textLength="35" lengthAdjust="spacingAndGlyphs" fill="#131722">2021</text>
<text x="443.0" y="758.9" font-family="Liberation Sans, sans-serif" font-size="13.5" fill="#131722">Apr</text>
<text x="547.0" y="758.9" font-family="Liberation Sans, sans-serif" font-size="13.5" fill="#131722">Jul</text>
<text x="651.0" y="758.9" font-family="Liberation Sans, sans-serif" font-size="13.5" fill="#131722">Oct</text>
<text x="726.7" y="761.5" font-family="Liberation Sans, sans-serif" font-size="16.5" stroke="#131722" stroke-width="0.55" textLength="35" lengthAdjust="spacingAndGlyphs" fill="#131722">2022</text>
<text x="830.0" y="758.9" font-family="Liberation Sans, sans-serif" font-size="13.5" fill="#131722">Apr</text>
<text x="934.0" y="758.9" font-family="Liberation Sans, sans-serif" font-size="13.5" fill="#131722">Jul</text>
<text x="1038.0" y="758.9" font-family="Liberation Sans, sans-serif" font-size="13.5" fill="#131722">Oct</text>
<text x="1113.7" y="761.5" font-family="Liberation Sans, sans-serif" font-size="16.5" stroke="#131722" stroke-width="0.55" textLength="35" lengthAdjust="spacingAndGlyphs" fill="#131722">2023</text>
<text x="1217.0" y="758.9" font-family="Liberation Sans, sans-serif" font-size="13.5" fill="#131722">Apr</text>
<text x="1321.0" y="758.9" font-family="Liberation Sans, sans-serif" font-size="13.5" fill="#131722">Jul</text>
<text x="1425.0" y="758.9" font-family="Liberation Sans, sans-serif" font-size="13.5" fill="#131722">Oct</text>
<text x="1470.0" y="758.9" font-family="Liberation Sans, sans-serif" font-size="13.5" fill="#131722">Dec</text>
<text x="1507.7" y="761.5" font-family="Liberation Sans, sans-serif" font-size="16.5" stroke="#131722" stroke-width="0.55" textLength="35" lengthAdjust="spacingAndGlyphs" fill="#131722">2024</text>
<text x="12.8" y="27" font-family="Liberation Sans, sans-serif" font-size="16.3" textLength="307" lengthAdjust="spacingAndGlyphs" fill="#131722">AUDUSD, W1: Australian Dollar vs US Dollar</text>
<text x="12.5" y="473" font-family="Liberation Sans, sans-serif" font-size="16" textLength="101" lengthAdjust="spacingAndGlyphs" fill="#707070">Stoch (5, 3, 3)</text>
<text x="123.5" y="473.2" font-family="Liberation Sans, sans-serif" font-size="13.5" textLength="33" lengthAdjust="spacingAndGlyphs" fill="#2196f3">17.20</text>
<rect x="136" y="40.5" width="89" height="26" fill="#ffffff" stroke="#e0e3eb" stroke-width="1"/>
<rect x="13" y="40" width="123" height="26.6" rx="2" fill="#3385ff"/>
<path d="M86,40 h48 a2,2 0 0 1 2,2 v22.6 a2,2 0 0 1 -2,2 h-48z" fill="#2b6fd6"/>
<rect x="225" y="40" width="120.6" height="26.6" rx="2" fill="#3385ff"/>
<path d="M227,40 h44.5 v26.6 h-44.5 a2,2 0 0 1 -2,-2 v-22.6 a2,2 0 0 1 2,-2z" fill="#2b6fd6"/>
<text x="21.5" y="58.8" font-family="Liberation Sans, sans-serif" font-size="16.2" textLength="57" lengthAdjust="spacingAndGlyphs" fill="#ffffff">0.65826</text>
<text x="95.5" y="58.8" font-family="Liberation Sans, sans-serif" font-size="16.2" textLength="33" lengthAdjust="spacingAndGlyphs" fill="#ffffff">SELL</text>
<text x="234.2" y="58.8" font-family="Liberation Sans, sans-serif" font-size="16.2" textLength="27.5" lengthAdjust="spacingAndGlyphs" fill="#ffffff">BUY</text>
<text x="280.5" y="58.8" font-family="Liberation Sans, sans-serif" font-size="16.2" textLength="56.3" lengthAdjust="spacingAndGlyphs" fill="#ffffff">0.65831</text>
<text x="166" y="58.8" font-family="Liberation Sans, sans-serif" font-size="16.2" textLength="29.5" lengthAdjust="spacingAndGlyphs" fill="#131722">1.00</text>
<path d="M147.5,51 l4.5,4.5 l4.5,-4.5" fill="none" stroke="#3d3535" stroke-width="1.4"/>
<path d="M205.5,55.8 l4.5,-4.5 l4.5,4.5" fill="none" stroke="#3d3535" stroke-width="1.4"/>
</svg>
</body></html>
